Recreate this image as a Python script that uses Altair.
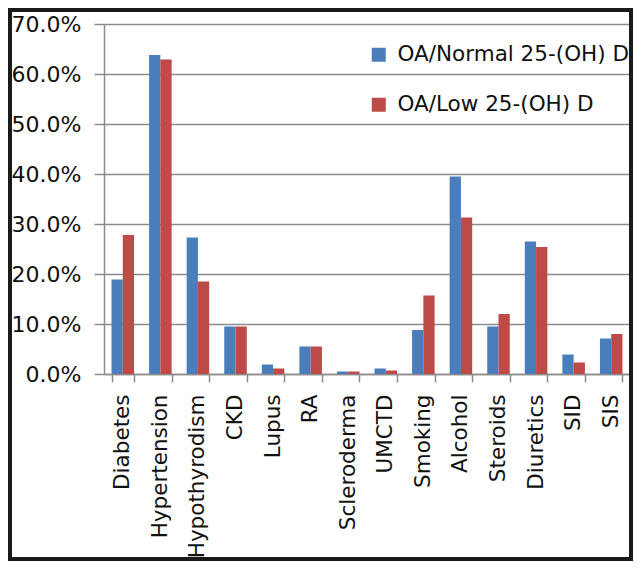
import altair as alt
import pandas as pd

categories = ["Diabetes", "Hypertension", "Hypothyrodism", "CKD", "Lupus", "RA",
              "Scleroderma", "UMCTD", "Smoking", "Alcohol", "Steroids", "Diuretics",
              "SID", "SIS"]
normal = [18.9, 63.8, 27.3, 9.5, 1.9, 5.5, 0.5, 1.1, 8.8, 39.5, 9.5, 26.5, 3.9, 7.1]
low = [27.8, 62.9, 18.5, 9.5, 1.1, 5.5, 0.5, 0.7, 15.7, 31.3, 12.0, 25.4, 2.3, 8.0]
series = ["OA/Normal 25-(OH) D", "OA/Low 25-(OH) D"]
colors = ["#4a7ebb", "#be4b48"]
y_ticks = [0.0, 0.1, 0.2, 0.3, 0.4, 0.5, 0.6, 0.7]

rows = []
for i, c in enumerate(categories):
    rows.append({"category": c, "series": series[0], "value": normal[i] / 100})
    rows.append({"category": c, "series": series[1], "value": low[i] / 100})
df = pd.DataFrame(rows)

GRID = "#8c8c8c"
FONT = "DejaVu Sans"
TXT = "#111111"

bars = alt.Chart(df).mark_bar().encode(
    x=alt.X("category:N", sort=categories, title=None,
            scale=alt.Scale(paddingInner=0.4, paddingOuter=0.2),
            axis=alt.Axis(labelAngle=-90, tickBand="extent", grid=False,
                          domainColor=GRID, domainWidth=1.5, tickColor=GRID,
                          tickWidth=1.5, tickSize=8, labelPadding=12,
                          labelFont=FONT, labelFontSize=21.5, labelColor=TXT,
                          labelLimit=0)),
    xOffset=alt.XOffset("series:N", sort=series),
    y=alt.Y("value:Q", title=None,
            scale=alt.Scale(domain=[0, 0.7], nice=False),
            axis=alt.Axis(values=y_ticks, format=".1%", grid=True, gridColor=GRID,
                          gridWidth=1.5, domainColor=GRID, domainWidth=1.5,
                          tickColor=GRID, tickWidth=1.5, tickSize=10, labelPadding=13,
                          labelFont=FONT, labelFontSize=22, labelColor=TXT)),
    color=alt.Color("series:N", sort=series,
                    scale=alt.Scale(domain=series, range=colors),
                    legend=alt.Legend(title=None, orient="none", legendX=264, legendY=20,
                                      symbolType="square", symbolSize=196,
                                      symbolStrokeWidth=0, labelOffset=8, rowPadding=27,
                                      labelFont=FONT, labelFontSize=21.5, labelLimit=0,
                                      labelColor=TXT)),
)

frame = alt.Chart(pd.DataFrame({"a": [0]})).mark_rect(
    fill="transparent", stroke="#1a1a1a", strokeWidth=4
).encode(x=alt.value(-94), x2=alt.value(527), y=alt.value(-14), y2=alt.value(535))

chart = alt.layer(bars, frame).properties(
    width=526, height=350,
    autosize=alt.AutoSizeParams(type="none"),
    padding={"left": 96, "top": 16, "right": 3, "bottom": 187},
).configure_view(stroke=None)

chart.save("out.html", embed_options={"renderer": "svg", "actions": False})
